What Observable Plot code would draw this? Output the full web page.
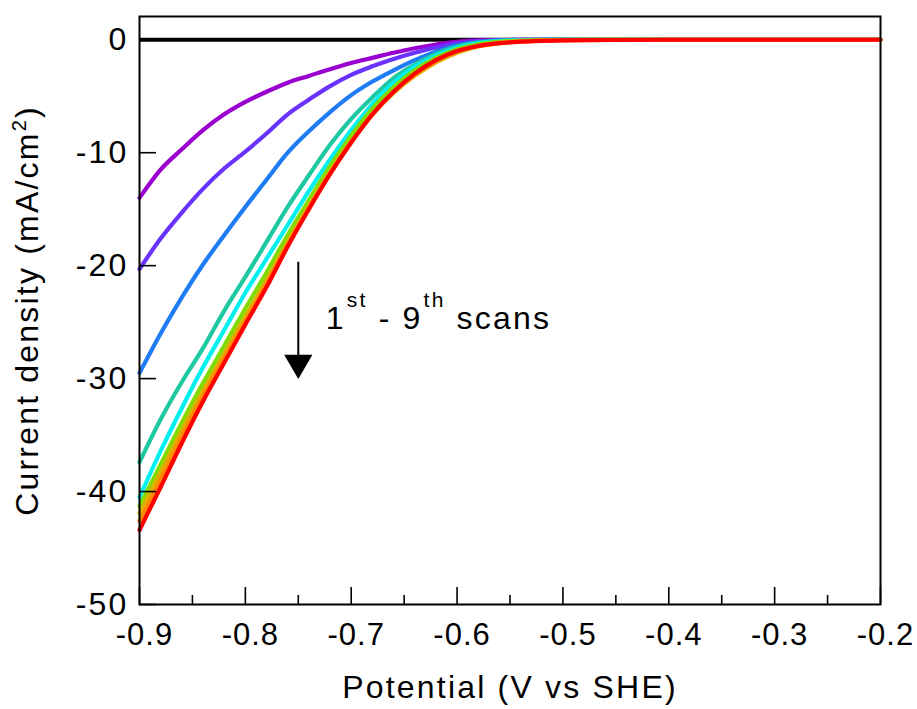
<!DOCTYPE html>
<html><head><meta charset="utf-8">
<script src="https://cdn.jsdelivr.net/npm/d3@7"></script>
<script src="https://cdn.jsdelivr.net/npm/@observablehq/plot@0.6"></script>
<style>body{margin:0;background:#fff;}</style>
</head><body><div id="chart"></div>
<script>
// Potential grid (V vs SHE)
const potentials = [-0.90,-0.88,-0.86,-0.84,-0.82,-0.80,-0.78,-0.76,-0.74,-0.72,-0.70,-0.68,-0.66,-0.64,-0.62,-0.60,-0.58,-0.56,-0.54,-0.52,-0.50,-0.45,-0.40,-0.30,-0.20];
// Current density (mA/cm2) for scans 1..9
const scan1 = [-14.0,-11.5,-9.7,-8.0,-6.6,-5.5,-4.6,-3.8,-3.2,-2.6,-2.05,-1.6,-1.15,-0.75,-0.42,-0.18,-0.06,-0.02,0,0,0,0,0,0,0];
const scan2 = [-20.3,-17.6,-15.3,-13.2,-11.4,-9.9,-8.3,-6.6,-5.3,-4.1,-3.1,-2.35,-1.7,-1.15,-0.68,-0.32,-0.12,-0.04,-0.01,0,0,0,0,0,0];
const scan3 = [-29.5,-26.0,-22.8,-19.9,-17.3,-14.8,-12.4,-10.0,-8.1,-6.4,-4.9,-3.7,-2.7,-1.8,-1.05,-0.5,-0.2,-0.07,-0.02,0,0,0,0,0,0];
const scan4 = [-37.4,-33.6,-30.3,-27.3,-24.0,-21.0,-17.9,-14.8,-12.0,-9.3,-7.0,-5.1,-3.4,-2.2,-1.25,-0.6,-0.25,-0.1,-0.03,0,0,0,0,0,0];
const scan5 = [-40.5,-36.4,-32.6,-29.0,-25.7,-22.4,-19.4,-16.4,-13.4,-10.6,-8.0,-5.7,-3.8,-2.4,-1.4,-0.7,-0.3,-0.12,-0.05,-0.02,0,0,0,0,0];
const scan6 = [-41.3,-37.6,-33.9,-30.4,-27.1,-23.8,-20.6,-17.3,-14.2,-11.2,-8.5,-6.1,-4.2,-2.7,-1.6,-0.85,-0.4,-0.18,-0.08,-0.03,0,0,0,0,0];
const scan7 = [-41.9,-38.3,-34.6,-31.1,-27.8,-24.5,-21.3,-17.9,-14.7,-11.7,-9.0,-6.6,-4.7,-3.2,-2.0,-1.15,-0.6,-0.3,-0.15,-0.08,-0.04,0,0,0,0];
const scan8 = [-42.6,-38.9,-35.1,-31.5,-28.2,-24.9,-21.6,-18.1,-14.9,-11.8,-9.0,-6.6,-4.6,-3.1,-1.9,-1.05,-0.55,-0.28,-0.14,-0.07,-0.03,0,0,0,0];
const scan9 = [-43.4,-39.6,-35.7,-32.0,-28.6,-25.2,-21.9,-18.3,-15.0,-11.9,-9.1,-6.6,-4.6,-3.0,-1.8,-1.0,-0.55,-0.3,-0.17,-0.1,-0.06,-0.02,0,0,0];
const scanNames = ["1","2","3","4","5","6","7","8","9"];
const scanColors = ["#9a00d0","#6a32ff","#1f7cf5","#1ec8a0","#00f0f0","#80dc00","#d8b400","#ff8a00","#ff0000"];
// Axis ticks
const xTicks = [-0.9,-0.8,-0.7,-0.6,-0.5,-0.4,-0.3,-0.2];
const xMinorTicks = [-0.85,-0.75,-0.65,-0.55,-0.45,-0.35,-0.25];
const yTicks = [0,-10,-20,-30,-40,-50];
// Annotation: arrow 1st -> 9th scans
const arrowData = [{x:-0.75, from:-19.7, to:-28.3, head:-28.6}];
const noteData = [{x:-0.724, y:-25.6, text:"1st - 9th scans"}];

const scans = [scan1,scan2,scan3,scan4,scan5,scan6,scan7,scan8,scan9];
const rows = scans.flatMap((s,i) => s.map((j,k) => ({scan: scanNames[i], V: potentials[k], J: j})));

const fmt = d => String(d);
const chart = Plot.plot({
  width: 917, height: 709,
  marginLeft: 139, marginRight: 37, marginTop: 16, marginBottom: 105,
  style: {fontFamily: "'Liberation Sans', Arial, sans-serif", fontSize: "32px", letterSpacing: "2.2px", color: "black", background: "white"},
  x: {domain: [-0.9, -0.2]},
  y: {domain: [-50, 2.06]},
  color: {domain: scanNames, range: scanColors},
  marks: [
    Plot.ruleY([0], {stroke: "black", strokeWidth: 4}),
    Plot.line(rows, {x: "V", y: "J", z: "scan", stroke: "scan", strokeWidth: 4.2, curve: "monotone-x"}),
    Plot.axisX(xTicks, {tickSize: -17, text: null, label: null, strokeWidth: 1.6}),
    Plot.axisX(xMinorTicks, {tickSize: -9, text: null, label: null, strokeWidth: 1.6}),
    Plot.axisX(xTicks, {tickSize: 0, tickPadding: 18, tickFormat: fmt, dx: 5, fontSize: 31, label: null, className: "xticklabels"}),
    Plot.axisX({tickSize: 0, ticks: [], label: "Potential (V vs SHE)", labelAnchor: "center", labelArrow: "none", labelOffset: 93}),
    Plot.axisY(yTicks, {tickSize: -17, text: null, label: null, strokeWidth: 1.6}),
    Plot.axisY(yTicks, {tickSize: 0, tickPadding: 11, tickFormat: fmt, label: "Current density (mA/cm2)", labelAnchor: "center", labelArrow: "none", labelOffset: 124}),
    Plot.frame({stroke: "black", strokeWidth: 2}),
    Plot.ruleX(arrowData, {x: "x", y1: "from", y2: "to", stroke: "black", strokeWidth: 2}),
    Plot.dot(arrowData, {x: "x", y: "head", symbol: "triangle", r: 10.5, fill: "black", stroke: "none", rotate: 180}),
    Plot.text(noteData, {x: "x", y: "y", text: "text", textAnchor: "start", lineAnchor: "bottom", fontSize: 32, fill: "black"})
  ]
});

// tick labels slightly tighter so the last one fits
d3.select(chart).selectAll(".xticklabels text").style("letter-spacing", "1px");

// superscripts as real text
d3.select(chart).selectAll("text").each(function() {
  const t = this.textContent;
  const el = d3.select(this);
  if (t === "Current density (mA/cm2)") {
    el.text(null);
    el.append("tspan").text("Current density (mA/cm");
    el.append("tspan").attr("dy", "-12").attr("font-size", 20).text("2");
    el.append("tspan").attr("dy", "12").text(")");
  } else if (t === "1st - 9th scans") {
    el.text(null);
    el.append("tspan").text("1");
    el.append("tspan").attr("dy", "-22").attr("font-size", 21).attr("dx", 1).text("st");
    el.append("tspan").attr("dy", "22").text(" - 9");
    el.append("tspan").attr("dy", "-22").attr("font-size", 21).attr("dx", 1).text("th");
    el.append("tspan").attr("dy", "22").text(" scans");
  }
});
document.getElementById("chart").appendChild(chart);
</script>
</body></html>
